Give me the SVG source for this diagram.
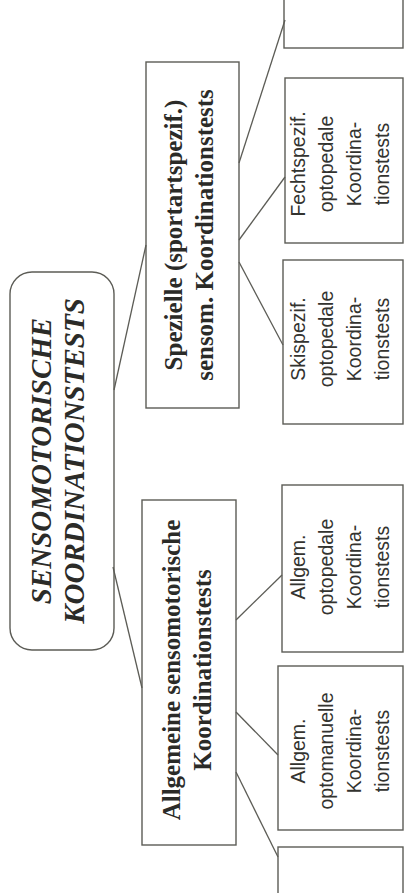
<svg xmlns="http://www.w3.org/2000/svg" width="405" height="893" viewBox="0 0 405 893">
  <style>
    .box { fill: none; stroke: #5c5c56; stroke-width: 1.4; }
    .edge { stroke: #5c5c56; stroke-width: 1.3; fill: none; }
    .root { font-family: "Liberation Serif", "Times New Roman", serif; font-weight: bold; font-style: italic; font-size: 29px; fill: #2b2b28; text-anchor: middle; }
    .mid { font-family: "Liberation Serif", "Times New Roman", serif; font-weight: bold; font-size: 25px; fill: #2b2b28; text-anchor: middle; }
    .leaf { font-family: "Liberation Sans", Arial, sans-serif; font-size: 19.5px; fill: #33332f; text-anchor: middle; }
  </style>
  <rect width="405" height="893" fill="#ffffff"/>
  <!-- tree laid out in landscape, turned a quarter turn so it reads bottom-to-top -->
  <g transform="translate(0,893) rotate(-90)">
    <g id="connectors">
      <line class="edge" x1="503" y1="114" x2="648" y2="146"/>
      <line class="edge" x1="326" y1="113" x2="205" y2="142"/>
      <line class="edge" x1="730" y1="239" x2="873" y2="285"/>
      <line class="edge" x1="653" y1="239" x2="716" y2="285"/>
      <line class="edge" x1="631" y1="239" x2="548" y2="283"/>
      <line class="edge" x1="273" y1="236" x2="318" y2="282"/>
      <line class="edge" x1="181" y1="236" x2="138" y2="278"/>
      <line class="edge" x1="121" y1="236" x2="36" y2="278"/>
    </g>
    <g id="root">
      <rect class="box" x="243" y="10" width="378" height="104" rx="22"/>
      <text class="root" x="432" y="51">SENSOMOTORISCHE</text>
      <text class="root" x="432" y="84">KOORDINATIONSTESTS</text>
    </g>
    <g id="spezielle">
      <rect class="box" x="485" y="146" width="346" height="93"/>
      <text class="mid" x="658" y="182">Spezielle (sportartspezif.)</text>
      <text class="mid" x="658" y="213">sensom. Koordinationstests</text>
    </g>
    <g id="allgemeine">
      <rect class="box" x="48" y="142" width="345" height="94"/>
      <text class="mid" x="223" y="180">Allgemeine sensomotorische</text>
      <text class="mid" x="223" y="211">Koordinationstests</text>
    </g>
    <g id="leaf-top">
      <rect class="box" x="845" y="284" width="80" height="119"/>
    </g>
    <g id="fecht">
      <rect class="box" x="650" y="285" width="165" height="118"/>
      <text class="leaf" x="729" y="305">Fechtspezif.</text>
      <text class="leaf" x="729" y="333">optopedale</text>
      <text class="leaf" x="729" y="361">Koordina-</text>
      <text class="leaf" x="729" y="389">tionstests</text>
    </g>
    <g id="ski">
      <rect class="box" x="469" y="283" width="164" height="120"/>
      <text class="leaf" x="554" y="305">Skispezif.</text>
      <text class="leaf" x="554" y="333">optopedale</text>
      <text class="leaf" x="554" y="361">Koordina-</text>
      <text class="leaf" x="554" y="389">tionstests</text>
    </g>
    <g id="optopedal">
      <rect class="box" x="241" y="282" width="167" height="121"/>
      <text class="leaf" x="326" y="305">Allgem.</text>
      <text class="leaf" x="326" y="333">optopedale</text>
      <text class="leaf" x="326" y="361">Koordina-</text>
      <text class="leaf" x="326" y="389">tionstests</text>
    </g>
    <g id="optomanuell">
      <rect class="box" x="63" y="278" width="164" height="125"/>
      <text class="leaf" x="142" y="305">Allgem.</text>
      <text class="leaf" x="142" y="333">optomanuelle</text>
      <text class="leaf" x="142" y="361">Koordina-</text>
      <text class="leaf" x="142" y="389">tionstests</text>
    </g>
    <g id="leaf-bottom">
      <rect class="box" x="-20" y="278" width="66" height="125"/>
    </g>
  </g>
</svg>
